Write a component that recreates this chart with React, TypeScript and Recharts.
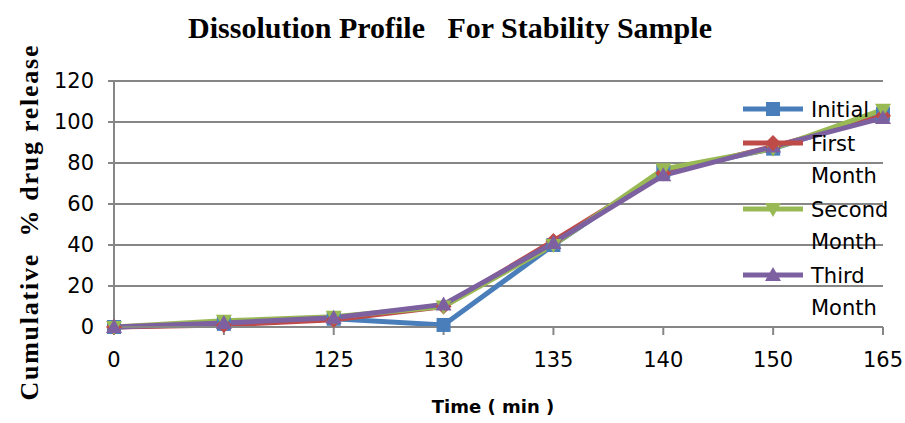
import { LineChart, Line, XAxis, YAxis, CartesianGrid } from 'recharts'

const times = ['0', '120', '125', '130', '135', '140', '150', '165']
const initial = [0, 1.5, 4, 1, 40, 76, 87, 104]
const firstMonth = [0, 1, 3.5, 10, 42, 75, 88, 103]
const secondMonth = [0, 3, 5, 10, 40, 77, 87, 106]
const thirdMonth = [0, 2, 4.5, 11, 41, 74, 88, 102]
const yTicks = [0, 20, 40, 60, 80, 100, 120]

const data = times.map((t, i) => ({
  time: t,
  initial: initial[i],
  first: firstMonth[i],
  second: secondMonth[i],
  third: thirdMonth[i]
}))

const GRID = '#868686'
const TICK_FONT = { fontFamily: 'DejaVu Sans', fontSize: 21, fill: '#000' }

const Square = ({ cx, cy, fill }: any) => (
  <rect x={cx - 7} y={cy - 7} width={14} height={14} fill={fill} />
)
const Diamond = ({ cx, cy, fill }: any) => (
  <polygon points={`${cx},${cy - 8} ${cx + 8},${cy} ${cx},${cy + 8} ${cx - 8},${cy}`} fill={fill} />
)
const TriDown = ({ cx, cy, fill }: any) => (
  <polygon points={`${cx - 8},${cy - 6} ${cx + 8},${cy - 6} ${cx},${cy + 8}`} fill={fill} />
)
const TriUp = ({ cx, cy, fill }: any) => (
  <polygon points={`${cx - 8},${cy + 6} ${cx + 8},${cy + 6} ${cx},${cy - 8}`} fill={fill} />
)

const series = [
  { key: 'initial', name: 'Initial', color: '#4A7EBB', Marker: Square },
  { key: 'first', name: 'First Month', color: '#BE4B48', Marker: Diamond },
  { key: 'second', name: 'Second Month', color: '#98B954', Marker: TriDown },
  { key: 'third', name: 'Third Month', color: '#7D60A0', Marker: TriUp }
]

function LegendBox () {
  return (
    <div style={{
      position: 'absolute', left: 741, top: 94, width: 164,
      fontFamily: 'DejaVu Sans', fontSize: 21, color: '#000'
    }}>
      {series.map(s => {
        const words = s.name.split(' ')
        return (
          <div key={s.key} style={{ display: 'flex', alignItems: 'flex-start', marginBottom: 2 }}>
            <svg width={70} height={30} style={{ flexShrink: 0 }}>
              <line x1={2} y1={15} x2={62} y2={15} stroke={s.color} strokeWidth={5} />
              <s.Marker cx={32} cy={15} fill={s.color} />
            </svg>
            <div style={{ lineHeight: '32px' }}>
              {words.map(w => <div key={w}>{w}</div>)}
            </div>
          </div>
        )
      })}
    </div>
  )
}

export default function App () {
  return (
    <div style={{ position: 'absolute', left: 0, top: 0, width: 905, height: 423, background: '#fff' }}>
      <LineChart
        width={905}
        height={423}
        data={data}
        margin={{ top: 81, right: 22, bottom: 36, left: 0 }}
      >
        <CartesianGrid vertical={false} stroke={GRID} strokeWidth={2} />
        <XAxis
          dataKey='time'
          height={60}
          stroke={GRID}
          strokeWidth={2}
          tickSize={8}
          tickMargin={17}
          tick={TICK_FONT}
          tickLine={{ stroke: GRID, strokeWidth: 2 }}
        />
        <YAxis
          width={114}
          domain={[0, 120]}
          ticks={yTicks}
          stroke={GRID}
          strokeWidth={2}
          tickSize={6}
          tickMargin={14}
          tick={TICK_FONT}
          tickLine={{ stroke: GRID, strokeWidth: 2 }}
        />
        {series.map(s => (
          <Line
            key={s.key}
            dataKey={s.key}
            name={s.name}
            stroke={s.color}
            strokeWidth={5}
            type='linear'
            isAnimationActive={false}
            dot={(p: any) => <s.Marker key={`${s.key}-${p.index}`} cx={p.cx} cy={p.cy} fill={s.color} />}
            activeDot={false}
          />
        ))}
      </LineChart>
      <LegendBox />
      <div style={{
        position: 'absolute', left: 0, top: 11, width: 900, textAlign: 'center',
        fontFamily: 'Liberation Serif', fontWeight: 'bold', fontSize: 30, whiteSpace: 'pre'
      }}>
        Dissolution Profile   For Stability Sample
      </div>
      <svg width={60} height={423} style={{ position: 'absolute', left: 0, top: 0 }}>
        <text
          x={0}
          y={0}
          transform='translate(38 223) rotate(-90)'
          textAnchor='middle'
          fontFamily='Liberation Serif'
          fontWeight='bold'
          fontSize={26}
          textLength={355}
          lengthAdjust='spacing'
          style={{ whiteSpace: 'pre' }}
        >
          Cumulative  % drug release
        </text>
      </svg>
      <div style={{
        position: 'absolute', left: 0, top: 396, width: 986, textAlign: 'center',
        fontFamily: 'DejaVu Sans', fontWeight: 'bold', fontSize: 18
      }}>
        Time ( min )
      </div>
    </div>
  )
}
